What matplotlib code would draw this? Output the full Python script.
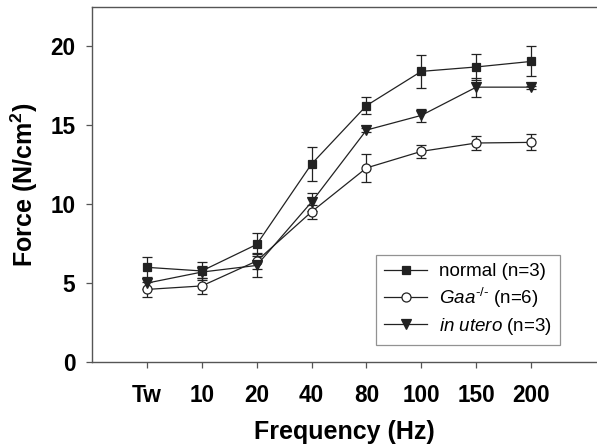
import numpy as np
import matplotlib
matplotlib.use("Agg")
import matplotlib.pyplot as plt
from matplotlib.lines import Line2D

plt.rcParams['font.family'] = ['Liberation Sans', 'DejaVu Sans']
plt.rcParams['mathtext.fontset'] = 'custom'
plt.rcParams['mathtext.rm'] = 'Liberation Sans'
plt.rcParams['mathtext.it'] = 'Liberation Sans:italic'
plt.rcParams['mathtext.bf'] = 'Liberation Sans:bold'

# Stimulation frequencies (categorical)
freqs = ["Tw", "10", "20", "40", "80", "100", "150", "200"]

# Force (N/cm2) means and error bars
normal = [6.0, 5.77, 7.45, 12.55, 16.25, 18.42, 18.7, 19.05]
normal_err = [0.65, 0.55, 0.7, 1.05, 0.55, 1.05, 0.85, 0.95]

gaa = [4.6, 4.82, 6.4, 9.52, 12.3, 13.35, 13.88, 13.92]
gaa_err = [0.45, 0.5, 0.5, 0.45, 0.9, 0.4, 0.45, 0.5]

utero = [5.0, 5.7, 6.12, 10.14, 14.7, 15.63, 17.42, 17.42]
utero_err = [0.4, 0.4, 0.75, 0.6, 0.15, 0.4, 0.6, 0.1]

labels = ["normal (n=3)", r"$\mathit{Gaa}^{\text{-/-}}$ (n=6)", r"$\mathit{in\ utero}$ (n=3)"]

x = np.arange(len(freqs))

fig = plt.figure(figsize=(5.97, 4.48), dpi=100)
ax = fig.add_axes([92/597, 1 - 362/448, 1 - 92/597, (362 - 7)/448])

lc = "#222222"
styles = [dict(marker="s", ms=6, mfc=lc),
          dict(marker="o", ms=6.5, mfc="white"),
          dict(marker="v", ms=6.5, mfc=lc)]
handles = []
for ys, es, st in zip([normal, gaa, utero], [normal_err, gaa_err, utero_err], styles):
    ax.errorbar(x, ys, yerr=es, color=lc, lw=0.9, mec=lc, mew=0.9,
                capsize=3.5, elinewidth=0.9, capthick=0.9, **st)
    handles.append(Line2D([], [], color=lc, lw=0.9, mec=lc, mew=0.9, **st))

ax.set_xlim(-1, 8.2)
ax.set_ylim(0, 22.5)
ax.set_xticks(x)
ax.set_xticklabels(freqs)
ax.set_yticks([0, 5, 10, 15, 20])

for s in ["left", "bottom", "top"]:
    ax.spines[s].set_color("#555555")
    ax.spines[s].set_linewidth(1.0)
ax.spines["right"].set_visible(False)

ax.tick_params(direction="out", length=4, width=0.9, color="#555555")
ax.tick_params(axis="y", pad=8)
ax.tick_params(axis="x", pad=12)
for lab in ax.get_xticklabels() + ax.get_yticklabels():
    lab.set_fontsize(16.3)
    lab.set_fontweight("bold")

ax.set_xlabel("Frequency (Hz)", fontsize=18, fontweight="bold", labelpad=9)
ax.set_ylabel(r"Force (N/cm$^{\mathbf{2}}$)", fontsize=18, fontweight="bold", labelpad=7)

leg = ax.legend(handles, labels, loc="lower right",
                bbox_to_anchor=(560/597, 1 - 345/448), bbox_transform=fig.transFigure,
                borderaxespad=0, fontsize=13.5, frameon=True,
                fancybox=False, edgecolor="#777777", handlelength=2.3,
                borderpad=0.45, labelspacing=0.3, handletextpad=0.6)
leg.get_frame().set_linewidth(0.9)

fig.savefig("out.png", dpi=100)
